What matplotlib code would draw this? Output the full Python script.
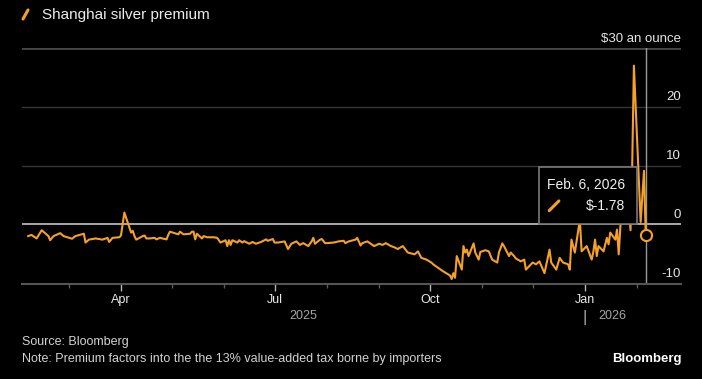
"""Shanghai silver premium, Bloomberg-style dark line chart."""

import matplotlib

matplotlib.use("Agg")

import matplotlib.dates as mdates
import matplotlib.pyplot as plt
import matplotlib.transforms as mtransforms
import pandas as pd
from matplotlib.lines import Line2D
from matplotlib.patches import Rectangle

# --- data ($ an ounce) ---
dates = [
    "2025-02-05", "2025-02-07", "2025-02-10", "2025-02-13", "2025-02-17", "2025-02-18",
    "2025-02-20", "2025-02-24", "2025-02-26", "2025-03-03", "2025-03-05", "2025-03-10",
    "2025-03-11", "2025-03-13", "2025-03-17", "2025-03-21", "2025-03-24", "2025-03-25",
    "2025-03-27", "2025-03-31", "2025-04-01", "2025-04-03", "2025-04-07", "2025-04-08",
    "2025-04-09", "2025-04-10", "2025-04-14", "2025-04-15", "2025-04-16", "2025-04-18",
    "2025-04-21", "2025-04-22", "2025-04-24", "2025-04-28", "2025-04-29", "2025-04-30",
    "2025-05-05", "2025-05-06", "2025-05-08", "2025-05-12", "2025-05-13", "2025-05-14",
    "2025-05-15", "2025-05-16", "2025-05-19", "2025-05-20", "2025-05-22", "2025-05-26",
    "2025-05-28", "2025-05-30", "2025-06-02", "2025-06-03", "2025-06-04", "2025-06-05",
    "2025-06-06", "2025-06-09", "2025-06-10", "2025-06-12", "2025-06-13", "2025-06-16",
    "2025-06-18", "2025-06-20", "2025-06-23", "2025-06-26", "2025-06-27", "2025-06-30",
    "2025-07-01", "2025-07-03", "2025-07-07", "2025-07-09", "2025-07-11", "2025-07-14",
    "2025-07-16", "2025-07-18", "2025-07-21", "2025-07-23", "2025-07-24", "2025-07-25",
    "2025-07-28", "2025-07-29", "2025-07-31", "2025-08-01", "2025-08-05", "2025-08-08",
    "2025-08-11", "2025-08-12", "2025-08-14", "2025-08-18", "2025-08-19", "2025-08-21",
    "2025-08-22", "2025-08-25", "2025-08-27", "2025-08-29", "2025-09-01", "2025-09-03",
    "2025-09-05", "2025-09-08", "2025-09-10", "2025-09-12", "2025-09-15", "2025-09-18",
    "2025-09-22", "2025-09-24", "2025-09-26", "2025-09-29", "2025-10-02", "2025-10-03",
    "2025-10-06", "2025-10-09", "2025-10-13", "2025-10-14", "2025-10-15", "2025-10-16",
    "2025-10-17", "2025-10-20", "2025-10-21", "2025-10-22", "2025-10-23", "2025-10-24",
    "2025-10-27", "2025-10-28", "2025-10-30", "2025-10-31", "2025-11-03", "2025-11-05",
    "2025-11-07", "2025-11-10", "2025-11-11", "2025-11-13", "2025-11-14", "2025-11-17",
    "2025-11-18", "2025-11-20", "2025-11-21", "2025-11-24", "2025-11-26", "2025-11-27",
    "2025-12-01", "2025-12-03", "2025-12-05", "2025-12-08", "2025-12-11", "2025-12-12",
    "2025-12-15", "2025-12-17", "2025-12-19", "2025-12-22", "2025-12-23", "2025-12-24",
    "2025-12-26", "2025-12-29", "2025-12-30", "2026-01-02", "2026-01-05", "2026-01-06",
    "2026-01-07", "2026-01-08", "2026-01-09", "2026-01-12", "2026-01-14", "2026-01-15",
    "2026-01-16", "2026-01-19", "2026-01-20", "2026-01-21", "2026-01-22", "2026-01-23",
    "2026-01-26", "2026-01-27", "2026-01-28", "2026-01-29", "2026-01-30", "2026-02-02",
    "2026-02-03", "2026-02-04", "2026-02-05", "2026-02-06",
]
premium = [
    -2.0, -1.8, -2.4, -1.0, -2.0, -2.7,
    -2.0, -1.5, -2.0, -2.45, -2.0, -1.6,
    -3.1, -2.6, -2.4, -2.6, -2.3, -3.0,
    -2.3, -2.2, -1.9, 2.0, -1.4, -1.1,
    -2.0, -2.6, -2.0, -1.9, -2.4, -2.4,
    -2.3, -2.56, -2.3, -2.56, -1.8, -1.25,
    -1.7, -1.25, -1.7, -1.6, -1.25, -1.25,
    -2.56, -1.6, -2.4, -2.0, -2.2, -2.2,
    -2.3, -3.1, -2.7, -3.7, -2.7, -3.5,
    -2.7, -3.1, -2.7, -3.1, -2.85, -3.3,
    -3.0, -3.3, -3.0, -2.56, -2.8, -2.5,
    -3.1, -3.1, -2.9, -4.2, -3.3, -2.9,
    -3.5, -3.2, -3.7, -2.9, -2.3, -3.3,
    -2.6, -2.5, -3.2, -3.2, -3.1, -2.9,
    -2.8, -3.2, -2.9, -2.6, -2.3, -3.6,
    -3.2, -2.9, -3.3, -3.7, -3.3, -3.5,
    -3.2, -3.7, -3.9, -4.2, -3.7, -4.8,
    -5.1, -4.6, -5.7, -6.0, -6.5, -6.8,
    -7.4, -8.0, -8.7, -9.3, -8.3, -9.1,
    -5.4, -7.7, -3.7, -4.8, -4.3, -5.4,
    -3.25, -4.8, -6.0, -4.7, -4.4, -4.6,
    -6.0, -6.5, -4.8, -3.25, -3.7, -5.4,
    -4.8, -5.4, -5.8, -6.3, -6.0, -7.7,
    -6.5, -6.8, -6.3, -8.3, -4.3, -6.5,
    -7.7, -5.7, -6.5, -6.8, -7.7, -2.6,
    -4.8, 0.8, -4.6, -3.7, -6.0, -4.6,
    -2.6, -5.4, -3.7, -4.6, -2.3, -3.4,
    -1.4, -2.6, -0.9, -5.1, -0.3, 2.0,
    1.0, 3.0, -1.0, 10.0, 27.0, 7.0,
    0.4, 4.8, 9.1, -1.78,
]
grid_values = [-10, 0, 10, 20, 30]
grid_labels = ["-10", "0", "10", "20", "$30 an ounce"]
x_start, x_end = "2025-02-01 08:00", "2026-02-26 22:00"

ORANGE = "#f5a028"
plt.rcParams["font.family"] = ["Liberation Sans", "DejaVu Sans"]

dt = pd.to_datetime(dates)
fig = plt.figure(figsize=(7.02, 3.79), dpi=100, facecolor="black")
ax = fig.add_axes([22 / 702, 95 / 379, 659 / 702, 236 / 379], facecolor="black")

# gridlines, zero line brighter, top line heavier
for v in grid_values[1:]:
    if v == 0:
        ax.axhline(v, color="#c4c4c4", lw=1.2, zorder=2)
    elif v == grid_values[-1]:
        ax.axhline(v, color="#474747", lw=2.0, zorder=1)
    else:
        ax.axhline(v, color="#363636", lw=1.0, zorder=1)

ylab_trans = mtransforms.blended_transform_factory(ax.transAxes, ax.transData)
for v, lab in zip(grid_values, grid_labels):
    ax.annotate(lab, (1.0, v), xycoords=ylab_trans, xytext=(0, 4.6),
                textcoords="offset points", ha="right", va="baseline",
                color="#e6e6e6", fontsize=9.5)

ax.plot(dt, premium, color=ORANGE, lw=1.5, zorder=3, solid_joinstyle="round")

# cursor and last point
ax.axvline(dt[-1], color="#9a9a9a", lw=1.0, zorder=2)
ax.plot(dt[-1], premium[-1], "o", ms=8, mfc="black", mec=ORANGE, mew=1.5, zorder=8)

ax.set_xlim(pd.Timestamp(x_start), pd.Timestamp(x_end))
ax.set_ylim(-10.15, 30)
ax.set_yticks([])

for side in ("top", "left", "right"):
    ax.spines[side].set_visible(False)
ax.spines["bottom"].set_color("#555555")
ax.spines["bottom"].set_linewidth(1.5)

ax.xaxis.set_major_locator(mdates.MonthLocator(bymonth=[1, 4, 7, 10]))
ax.xaxis.set_major_formatter(mdates.DateFormatter("%b"))
ax.xaxis.set_minor_locator(mdates.MonthLocator())
ax.tick_params(axis="x", which="major", length=5, width=1, color="#b5b5b5",
               labelcolor="#eaeaea", labelsize=9, pad=2.5)
ax.tick_params(axis="x", which="minor", length=3, width=1, color="#5a5a5a")

# year labels under the month labels
yr_trans = mtransforms.blended_transform_factory(ax.transData, ax.transAxes)
t0 = mdates.date2num(pd.Timestamp(x_start))
jan26 = mdates.date2num(pd.Timestamp("2026-01-01"))
ax.text((t0 + jan26) / 2, -0.136, "2025", transform=yr_trans, ha="center",
        va="center", color="#a5a5a5", fontsize=9)
ax.text(jan26, -0.14, "|", transform=yr_trans, ha="center", va="center",
        color="#a5a5a5", fontsize=12)
ax.annotate("2026", (jan26, -0.136), xycoords=yr_trans, xytext=(9.5, 0),
            textcoords="offset points", ha="left", va="center",
            color="#a5a5a5", fontsize=9)

# tooltip box
ax.add_patch(Rectangle((0.7845, 0.253), 0.1483, 0.244, transform=ax.transAxes,
                       facecolor="black", edgecolor="#7a7a7a", lw=1.2, zorder=5))
ax.text(0.796, 0.4195, "Feb. 6, 2026", transform=ax.transAxes, ha="left",
        va="center", color="#f0f0f0", fontsize=10, zorder=7)
ax.text(0.915, 0.3326, f"$-{abs(premium[-1]):.2f}", transform=ax.transAxes,
        ha="right", va="center", color="#f0f0f0", fontsize=10, zorder=7)
ax.add_line(Line2D([0.8000, 0.8147], [0.311, 0.352], transform=ax.transAxes,
                   color=ORANGE, lw=2.2, zorder=7, solid_capstyle="round"))

# header legend
fig.add_artist(Line2D([23 / 702, 28 / 702], [1 - 19 / 379, 1 - 10 / 379],
                      color=ORANGE, lw=2.2, solid_capstyle="round"))
fig.text(42 / 702, 1 - 14.5 / 379, "Shanghai silver premium", ha="left",
         va="center", color="#ececec", fontsize=11)

# footer
fig.text(22 / 702, 1 - 342 / 379, "Source: Bloomberg", ha="left", va="center",
         color="#d2d2d2", fontsize=9)
fig.text(22 / 702, 1 - 359 / 379,
         "Note: Premium factors into the the 13% value-added tax borne by importers",
         ha="left", va="center", color="#d2d2d2", fontsize=9)
fig.text(682 / 702, 1 - 359 / 379, "Bloomberg", ha="right", va="center",
         color="#ffffff", fontsize=9.5, fontweight="bold")

fig.savefig("out.png", dpi=100, facecolor="black")
